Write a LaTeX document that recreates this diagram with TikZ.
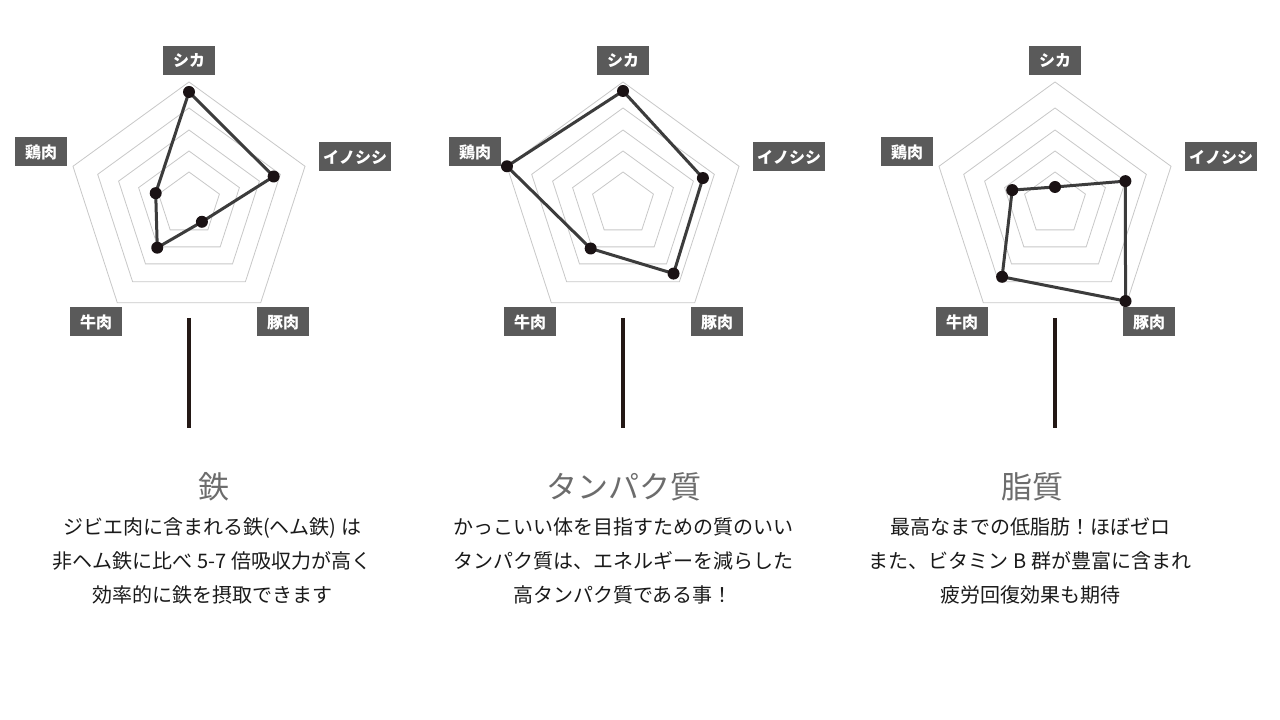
\documentclass[tikz,border=0pt]{standalone}
\usepackage{fontspec}
\newfontfamily\jp{Noto Sans CJK JP}
\usetikzlibrary{calc}
\definecolor{gridc}{HTML}{C8C8C8}
\definecolor{boxc}{HTML}{5A5A5A}
\definecolor{linec}{HTML}{3C3C3C}
\definecolor{dotc}{HTML}{1A1214}
\definecolor{stemc}{HTML}{231815}
\definecolor{txtc}{HTML}{1A1A1A}
\tikzset{
  lab/.style={fill=boxc,text=white,font=\jp\bfseries\fontsize{16}{16}\selectfont,inner xsep=4pt,minimum height=29pt,minimum width=52pt},
  gridline/.style={draw=gridc,line width=0.8pt},
  dataline/.style={draw=linec,line width=3pt,line join=round},
  dot/.style={fill=dotc},
  stem/.style={draw=stemc,line width=4pt},
  ttl/.style={font=\jp\fontsize{31}{31}\selectfont,text=gray!85!black},
  body/.style={font=\jp\fontsize{20}{34}\selectfont,text=txtc,align=center}
}
\newcommand{\radarchart}[7]{%
  \coordinate (#1c) at (#2,516);
  \foreach \rr in {32,53,74,96,122}{
    \draw[gridline] ($(#1c)+(90:\rr)$) -- ($(#1c)+(18:\rr)$) -- ($(#1c)+(-54:\rr)$) -- ($(#1c)+(-126:\rr)$) -- ($(#1c)+(162:\rr)$) -- cycle;
  }
  \coordinate (#1a) at ($(#1c)+(90:#3)$);
  \coordinate (#1b) at ($(#1c)+(18:#4)$);
  \coordinate (#1d) at ($(#1c)+(-54:#5)$);
  \coordinate (#1e) at ($(#1c)+(-126:#6)$);
  \coordinate (#1f) at ($(#1c)+(162:#7)$);
  \draw[dataline] (#1a) -- (#1b) -- (#1d) -- (#1e) -- (#1f) -- cycle;
  \foreach \q in {a,b,d,e,f}{ \fill[dot] (#1\q) circle (6); }
  \node[lab] (#1l1) at ($(#1c)+(0,143)$) {シカ};
  \node[lab] (#1l2) at ($(#1c)+(166,47)$) {イノシシ};
  \node[lab] (#1l3) at ($(#1c)+(94,-118)$) {豚肉};
  \node[lab] (#1l4) at ($(#1c)+(-93,-118)$) {牛肉};
  \node[lab] (#1l5) at ($(#1c)+(-148,52)$) {鶏肉};
  \coordinate (#1s1) at ($(#1c)+(0,-114)$);
  \coordinate (#1s2) at ($(#1c)+(0,-224)$);
  \draw[stem] (#1s1) -- (#1s2);
}
\begin{document}
\begin{tikzpicture}[x=1pt,y=1pt]
\useasboundingbox[fill=white] (0,0) rectangle (1280,720);
\radarchart{A}{189}{112}{89}{22}{54}{35}
\radarchart{B}{623}{113}{84}{86}{55}{122}
\radarchart{C}{1055}{17}{74}{120}{90}{45}
\node[ttl] (t1) at (214,233) {鉄};
\node[ttl] (t2) at (624,233) {タンパク質};
\node[ttl] (t3) at (1032,233) {脂質};
\node[body] (b1) at (212,159) {ジビエ肉に含まれる鉄(ヘム鉄) は\\非ヘム鉄に比べ 5-7 倍吸収力が高く\\効率的に鉄を摂取できます};
\node[body] (b2) at (623,159) {かっこいい体を目指すための質のいい\\タンパク質は、エネルギーを減らした\\高タンパク質である事！};
\node[body] (b3) at (1030,159) {最高なまでの低脂肪！ほぼゼロ\\また、ビタミン B 群が豊富に含まれ\\疲労回復効果も期待};
\end{tikzpicture}
\end{document}
